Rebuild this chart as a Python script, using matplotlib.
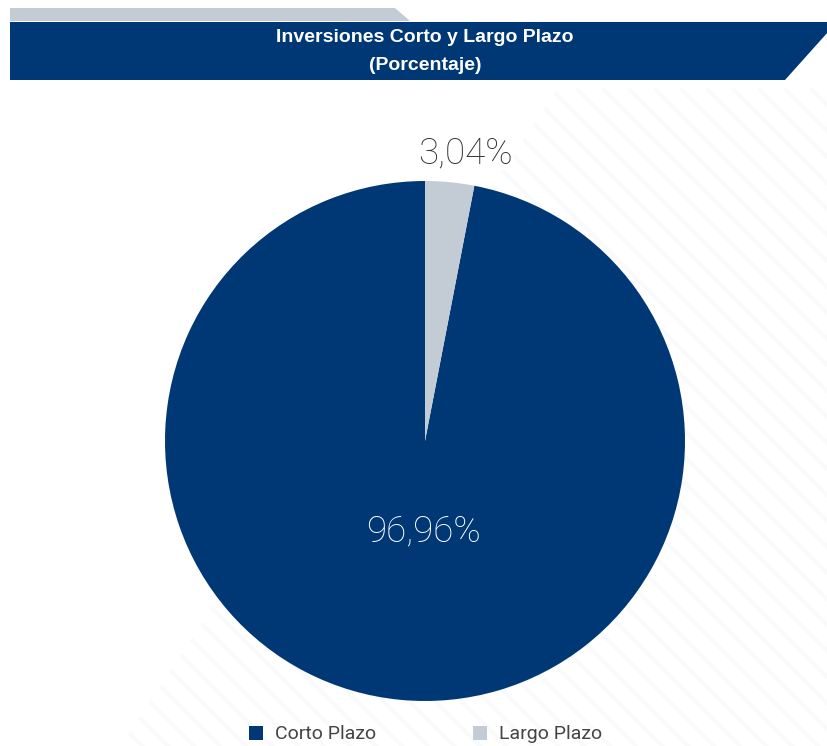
import matplotlib
matplotlib.use("Agg")
import matplotlib.pyplot as plt
from matplotlib.patches import Polygon, Rectangle
import numpy as np

categories = ["Corto Plazo", "Largo Plazo"]
values = [96.96, 3.04]
value_labels = ["96,96%", "3,04%"]
colors = ["#003876", "#C3CCD4"]
title_lines = ["Inversiones Corto y Largo Plazo", "(Porcentaje)"]

W, H = 828, 746
fig = plt.figure(figsize=(W / 100, H / 100), dpi=100)
fig.patch.set_facecolor("white")

title_font = ["Liberation Sans Narrow", "Liberation Sans", "DejaVu Sans"]
light_font = ["Roboto", "DejaVu Sans"]

def fx(x):
    return x / W

def fy(y):
    return 1 - y / H

# background axes in pixel coordinates
bg = fig.add_axes([0, 0, 1, 1])
bg.set_xlim(0, W)
bg.set_ylim(H, 0)
bg.axis("off")

# very faint diagonal lines (clipped to lower-right region)
clip = Polygon([[560, 85], [828, 85], [828, 746], [120, 746]], closed=True,
               facecolor="none", edgecolor="none")
bg.add_patch(clip)
for k in range(-800, 1700, 26):
    ln, = bg.plot([k, k + 800], [90, 890], color="#f9fafb", lw=3, zorder=0)
    ln.set_clip_path(clip)

# header tab and banner
bg.add_patch(Polygon([[10, 8], [395, 8], [410, 21], [10, 21]], closed=True,
                     facecolor="#C3CCD4", edgecolor="none", zorder=2))
bg.add_patch(Polygon([[10, 22], [828, 22], [828, 32], [785, 80], [10, 80]], closed=True,
                     facecolor="#003876", edgecolor="none", zorder=2))
fig.text(fx(425), fy(38), title_lines[0], color="white", fontsize=14, fontweight="bold",
         family=title_font, ha="center", va="center")
fig.text(fx(425), fy(66), title_lines[1], color="white", fontsize=14, fontweight="bold",
         family=title_font, ha="center", va="center")

# pie
ax = fig.add_axes([165 / W, (H - 701) / H, 520 / W, 520 / H])
wedges, _ = ax.pie(values, colors=colors, startangle=90, counterclock=True,
                   radius=1.0, wedgeprops=dict(linewidth=0))
ax.set_xlim(-1, 1)
ax.set_ylim(-1, 1)
ax.set_aspect("equal")
ax.axis("off")

fig.text(fx(424), fy(531), value_labels[0], color="white", fontsize=26.5, family=light_font,
         fontweight="light", ha="center", va="center")
fig.text(fx(465), fy(153), value_labels[1], color="#333333", fontsize=26.5, family=light_font,
         fontweight="light", ha="center", va="center")

# legend
leg_x = [249, 473]
for i, (cat, col) in enumerate(zip(categories, colors)):
    bg.add_patch(Rectangle((leg_x[i], 726), 14, 14, facecolor=col, edgecolor="none", zorder=5))
    fig.text(fx(leg_x[i] + 26), fy(734), cat, color="#444444", fontsize=14,
             family=light_font, fontweight="normal", ha="left", va="center")

fig.savefig("out.png", dpi=100, facecolor="white")
